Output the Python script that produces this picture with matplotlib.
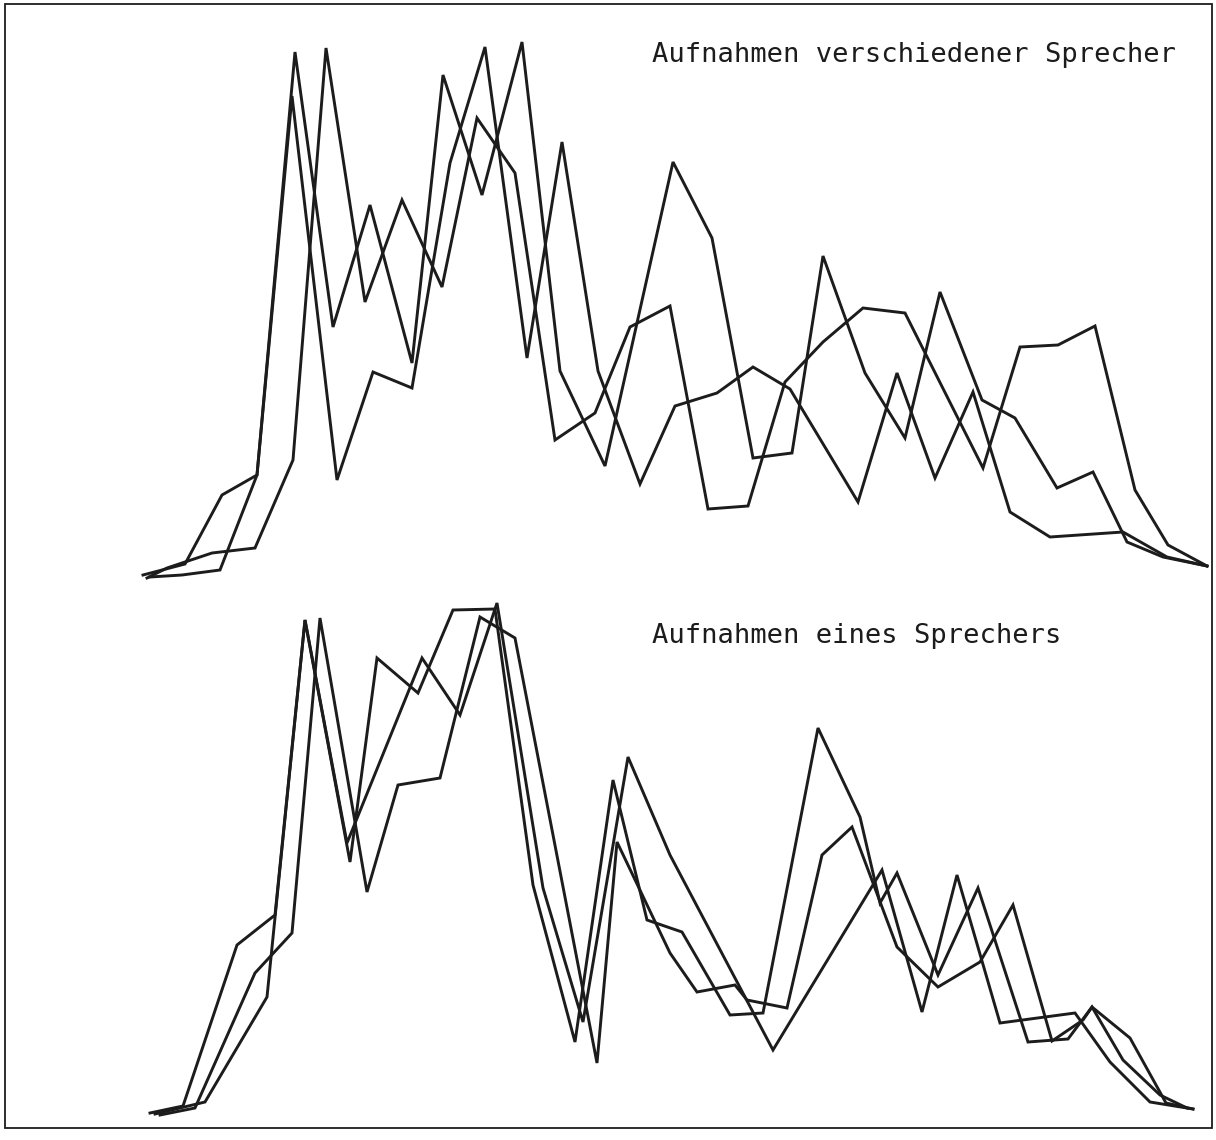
import matplotlib
matplotlib.use("Agg")
import matplotlib.pyplot as plt
from matplotlib.patches import Rectangle

# upper panel: three recordings of different speakers
top_a_x = [3, 45, 82, 117, 155, 193, 230, 272, 303, 342, 382, 420, 465, 533, 572, 613, 652, 683, 725, 765,
           800, 842, 875, 917, 953, 987, 1023, 1067]
top_a_y = [5, 16, 85, 105, 528, 253, 375, 217, 505, 385, 538, 209, 114, 418, 342, 122, 127, 324, 207, 142,
           288, 180, 162, 92, 108, 38, 23, 14]

top_b_x = [7, 27, 72, 115, 153, 186, 225, 262, 302, 337, 375, 415, 455, 490, 530, 568, 608, 645, 683, 723,
           765, 843, 880, 918, 955, 995, 1028, 1067]
top_b_y = [2, 12, 27, 32, 120, 532, 278, 380, 293, 462, 407, 140, 167, 253, 274, 71, 74, 198, 238, 272,
           267, 112, 233, 235, 254, 90, 35, 14]

top_c_x = [10, 42, 80, 117, 152, 197, 233, 272, 310, 345, 387, 422, 458, 500, 535, 577, 613, 650, 718, 757,
           795, 833, 870, 910, 983, 1027, 1067]
top_c_y = [3, 5, 10, 105, 484, 100, 208, 192, 417, 533, 222, 438, 209, 96, 174, 187, 213, 191, 78, 207,
           102, 188, 68, 43, 48, 23, 14]

# lower panel: three recordings of one speaker
bot_d_x = [10, 43, 97, 135, 165, 207, 282, 320, 357, 403, 443, 488, 530, 633, 742, 782, 817, 860, 935, 970,
           1010, 1053]
bot_d_y = [17, 24, 185, 215, 510, 287, 472, 415, 527, 242, 108, 373, 275, 80, 260, 118, 255, 107, 117, 68,
           28, 21]

bot_e_x = [15, 65, 127, 165, 210, 237, 278, 313, 355, 393, 435, 473, 507, 542, 590, 623, 678, 720, 740, 757,
           798, 838, 888, 928, 952, 990, 1026, 1053]
bot_e_y = [16, 28, 133, 510, 268, 472, 437, 520, 521, 245, 88, 350, 210, 198, 115, 117, 402, 313, 227, 257,
           155, 242, 88, 91, 123, 92, 27, 21]

bot_f_x = [20, 55, 115, 152, 180, 227, 258, 300, 340, 375, 457, 477, 530, 557, 595, 607, 647, 682, 712, 757,
           798, 840, 873, 912, 943, 952, 983, 1020, 1047]
bot_f_y = [15, 22, 157, 197, 512, 238, 345, 352, 513, 492, 67, 288, 177, 138, 145, 130, 122, 275, 303, 183,
           143, 168, 225, 89, 110, 123, 70, 35, 22]

top_label = "Aufnahmen verschiedener Sprecher"
bot_label = "Aufnahmen eines Sprechers"

INK = "#1c1c1c"
W, H = 1216, 1140


def panel(fig, top_px, bottom_px):
    ax = fig.add_axes([0, (H - bottom_px) / H, 1, (bottom_px - top_px) / H])
    ax.set_xlim(-140, W - 140)
    ax.set_ylim(0, bottom_px - top_px)
    ax.axis("off")
    return ax


def main():
    fig = plt.figure(figsize=(W / 100, H / 100), dpi=100)
    fig.patch.set_facecolor("white")

    ax1 = panel(fig, 0, 580)
    for xs, ys in [(top_a_x, top_a_y), (top_b_x, top_b_y), (top_c_x, top_c_y)]:
        ax1.plot(xs, ys, color=INK, lw=2.1, solid_joinstyle="miter")
    ax1.text(512, 525, top_label, family="DejaVu Sans Mono", fontsize=19.5,
             color=INK, ha="left", va="center")

    ax2 = panel(fig, 590, 1130)
    for xs, ys in [(bot_d_x, bot_d_y), (bot_e_x, bot_e_y), (bot_f_x, bot_f_y)]:
        ax2.plot(xs, ys, color=INK, lw=2.1, solid_joinstyle="miter")
    ax2.text(512, 494, bot_label, family="DejaVu Sans Mono", fontsize=19.5,
             color=INK, ha="left", va="center")

    # page frame
    fig.patches.append(Rectangle((5 / W, (H - 1128) / H), 1207 / W, 1124 / H,
                                 transform=fig.transFigure, fill=False,
                                 edgecolor=INK, lw=1.3))

    fig.savefig("out.png", dpi=100, facecolor="white")


if __name__ == "__main__":
    main()
